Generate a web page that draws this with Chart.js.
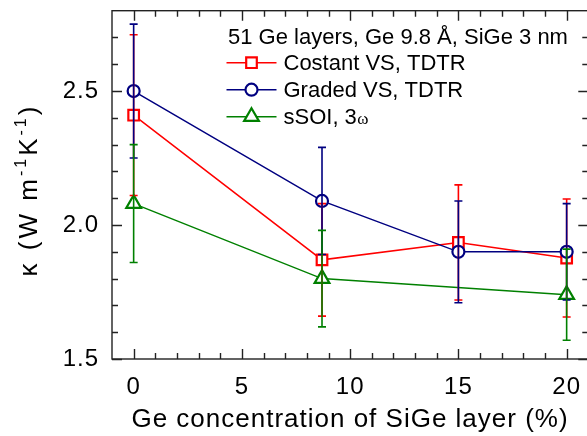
<!DOCTYPE html>
<html>
<head>
<meta charset="utf-8">
<script src="https://cdn.jsdelivr.net/npm/chart.js@4.4.0/dist/chart.umd.min.js"></script>
<style>
  html, body { margin: 0; padding: 0; background: #fff; overflow: hidden; }
  #kappaChart { display: block; }
</style>
</head>
<body>
<canvas id="kappaChart" width="590" height="436"></canvas>
<script>
// Ge concentration of the SiGe layer (%)
const geConc = [0, 8.7, 15, 20];
const geConcSOI = [0, 8.7, 20];

// thermal conductivity (W m^-1 K^-1) and error bar half-widths
const constantVS = [2.41, 1.87, 1.935, 1.877];
const constantVSErr = [0.30, 0.21, 0.215, 0.22];
const gradedVS = [2.50, 2.09, 1.90, 1.90];
const gradedVSErr = [0.25, 0.20, 0.19, 0.18];
const sSOI = [2.08, 1.80, 1.74];
const sSOIErr = [0.22, 0.18, 0.17];

// axis ticks
const xMajorTicks = [0, 5, 10, 15, 20];
const xMinorTicks = [1, 2, 3, 4, 6, 7, 8, 9, 11, 12, 13, 14, 16, 17, 18, 19];
const yMajorTicks = [1.5, 2.0, 2.5];
const yMinorTicks = [1.6, 1.7, 1.8, 1.9, 2.1, 2.2, 2.3, 2.4, 2.6, 2.7];

const legendTitle = '51 Ge layers, Ge 9.8 Å, SiGe 3 nm';
const xTitle = 'Ge concentration of SiGe layer (%)';

const SANS = '"Liberation Sans", Arial, sans-serif';
const AXIS_COLOR = '#222';
const PLOT_RIGHT = 588.7;   // right frame sits just past the window edge
const HEIGHT = 436;

function toPoints(xs, ys) {
    return xs.map((x, i) => ({ x: x, y: ys[i] }));
}

function makeSeries(label, xs, ys, errs, color, style, radius, order) {
    return {
        label: label,
        data: toPoints(xs, ys),
        errors: errs,
        borderColor: color,
        borderWidth: 1.5,
        pointStyle: style,
        pointRadius: radius,
        pointHoverRadius: radius,
        pointBorderWidth: 2.2,
        pointBorderColor: color,
        pointBackgroundColor: '#fff',
        showLine: true,
        tension: 0,
        fill: false,
        order: order
    };
}

const datasets = [
    makeSeries('Costant VS, TDTR', geConc, constantVS, constantVSErr, '#ff0000', 'rect', 7.5, 2),
    makeSeries('Graded VS, TDTR', geConc, gradedVS, gradedVSErr, '#000080', 'circle', 6, 1),
    makeSeries('sSOI, 3', geConcSOI, sSOI, sSOIErr, '#008000', 'triangle', 8.5, 0)
];

// vertical error bars with short caps
const errorBarPlugin = {
    id: 'errorBars',
    afterDatasetsDraw(chart) {
        const { ctx } = chart;
        const xs = chart.scales.x, ys = chart.scales.y;
        ctx.save();
        chart.data.datasets.forEach(ds => {
            ctx.strokeStyle = ds.borderColor;
            ctx.lineWidth = 1.6;
            ds.data.forEach((p, i) => {
                const e = ds.errors[i];
                const px = xs.getPixelForValue(p.x);
                const top = ys.getPixelForValue(p.y + e);
                const bot = ys.getPixelForValue(p.y - e);
                ctx.beginPath();
                ctx.moveTo(px, top); ctx.lineTo(px, bot);
                ctx.moveTo(px - 4, top); ctx.lineTo(px + 4, top);
                ctx.moveTo(px - 4, bot); ctx.lineTo(px + 4, bot);
                ctx.stroke();
            });
        });
        ctx.restore();
    }
};

// box frame with inward ticks on all four sides, titles and legend
const framePlugin = {
    id: 'frame',
    beforeDraw(chart) {
        chart.ctx.letterSpacing = '1px';
    },
    afterDraw(chart) {
        const { ctx, chartArea: a } = chart;
        const xs = chart.scales.x, ys = chart.scales.y;
        ctx.save();
        ctx.strokeStyle = AXIS_COLOR;
        ctx.lineWidth = 1.4;
        ctx.strokeRect(a.left, a.top, a.right - a.left, a.bottom - a.top);

        ctx.beginPath();
        const xTick = (v, len) => {
            const px = Math.round(xs.getPixelForValue(v)) + 0.5;
            ctx.moveTo(px, a.bottom); ctx.lineTo(px, a.bottom - len);
            ctx.moveTo(px, a.top); ctx.lineTo(px, a.top + len);
        };
        const yTick = (v, len) => {
            const py = Math.round(ys.getPixelForValue(v)) + 0.5;
            ctx.moveTo(a.left, py); ctx.lineTo(a.left + len, py);
            ctx.moveTo(a.right, py); ctx.lineTo(a.right - len, py);
        };
        xMajorTicks.forEach(v => xTick(v, 10));
        xMinorTicks.forEach(v => xTick(v, 6));
        yMajorTicks.forEach(v => yTick(v, 10));
        yMinorTicks.forEach(v => yTick(v, 6));
        ctx.stroke();

        ctx.fillStyle = '#000';
        ctx.textBaseline = 'alphabetic';

        // x axis title
        ctx.letterSpacing = '1px';
        ctx.font = '26px ' + SANS;
        ctx.textAlign = 'center';
        ctx.fillText(xTitle, 350, 427);

        // y axis title, rotated, with superscript exponents
        ctx.save();
        ctx.translate(37, 190);
        ctx.rotate(-Math.PI / 2);
        ctx.letterSpacing = '3px';
        const parts = [
            ['κ (W m', 26, 0],
            ['-1', 16, -11],
            ['K', 26, 0],
            ['-1', 16, -11],
            [')', 26, 0]
        ];
        let total = 0;
        parts.forEach(([t, s]) => { ctx.font = s + 'px ' + SANS; total += ctx.measureText(t).width; });
        let cx = -total / 2;
        ctx.textAlign = 'left';
        parts.forEach(([t, s, dy]) => {
            ctx.font = s + 'px ' + SANS;
            ctx.fillText(t, cx, dy);
            cx += ctx.measureText(t).width;
        });
        ctx.restore();

        // legend
        ctx.letterSpacing = '0px';
        ctx.textAlign = 'left';
        ctx.font = '22px ' + SANS;
        ctx.fillText(legendTitle, 228, 43.5);
        chart.data.datasets.forEach((ds, i) => {
            const ly = 62.7 + i * 27;
            ctx.strokeStyle = ds.borderColor;
            ctx.lineWidth = 1.5;
            ctx.beginPath();
            ctx.moveTo(226.5, ly); ctx.lineTo(276.5, ly);
            ctx.stroke();
            ctx.fillStyle = '#fff';
            ctx.lineWidth = ds.pointBorderWidth;
            Chart.helpers.drawPoint(ctx, {
                pointStyle: ds.pointStyle,
                radius: ds.pointRadius,
                borderWidth: ds.pointBorderWidth,
                rotation: 0
            }, 251.5, ly);
            ctx.fillStyle = '#000';
            ctx.font = '22px ' + SANS;
            ctx.fillText(ds.label, 283.5, ly + 7.7);
            if (i === 2) {
                const w = ctx.measureText(ds.label).width;
                ctx.font = '17px "Liberation Serif", "Times New Roman", serif';
                ctx.fillText('ω', 283.5 + w + 0.5, ly + 7.7);
            }
        });
        ctx.restore();
    }
};

// fixed axis box sizes so the plot area keeps its place
function noPadding(s) {
    s.paddingTop = 0;
    s.paddingBottom = 0;
    s.paddingLeft = 0;
    s.paddingRight = 0;
}

const canvas = document.getElementById('kappaChart');
const chart = new Chart(canvas.getContext('2d'), {
    type: 'scatter',
    data: { datasets: datasets },
    options: {
        responsive: false,
        maintainAspectRatio: false,
        animation: false,
        layout: { padding: { top: 8, right: 1.3, left: 0, bottom: 0 } },
        plugins: {
            legend: { display: false },
            tooltip: { enabled: false }
        },
        scales: {
            x: {
                type: 'linear',
                min: -1,
                max: 21,
                grid: { display: false, drawTicks: false },
                border: { display: false },
                afterBuildTicks: s => { s.ticks = xMajorTicks.map(v => ({ value: v })); },
                afterFit: s => { s.height = 77; noPadding(s); },
                ticks: {
                    color: '#000',
                    padding: 14,
                    maxRotation: 0,
                    font: { family: SANS, size: 24 },
                    callback: v => String(v)
                }
            },
            y: {
                type: 'linear',
                min: 1.5,
                max: 2.8,
                grid: { display: false, drawTicks: false },
                border: { display: false },
                afterBuildTicks: s => { s.ticks = yMajorTicks.map(v => ({ value: v })); },
                afterFit: s => { s.width = 112; noPadding(s); },
                ticks: {
                    color: '#000',
                    padding: 13,
                    font: { family: SANS, size: 24 },
                    callback: v => Number(v).toFixed(1)
                }
            }
        }
    },
    plugins: [errorBarPlugin, framePlugin]
});

// the last x label reserves room on the right; widen the canvas to push the frame back out
const drift = PLOT_RIGHT - chart.chartArea.right;
if (Math.abs(drift) > 0.5) {
    chart.resize(Math.round(canvas.width + drift), HEIGHT);
}
</script>
</body>
</html>
